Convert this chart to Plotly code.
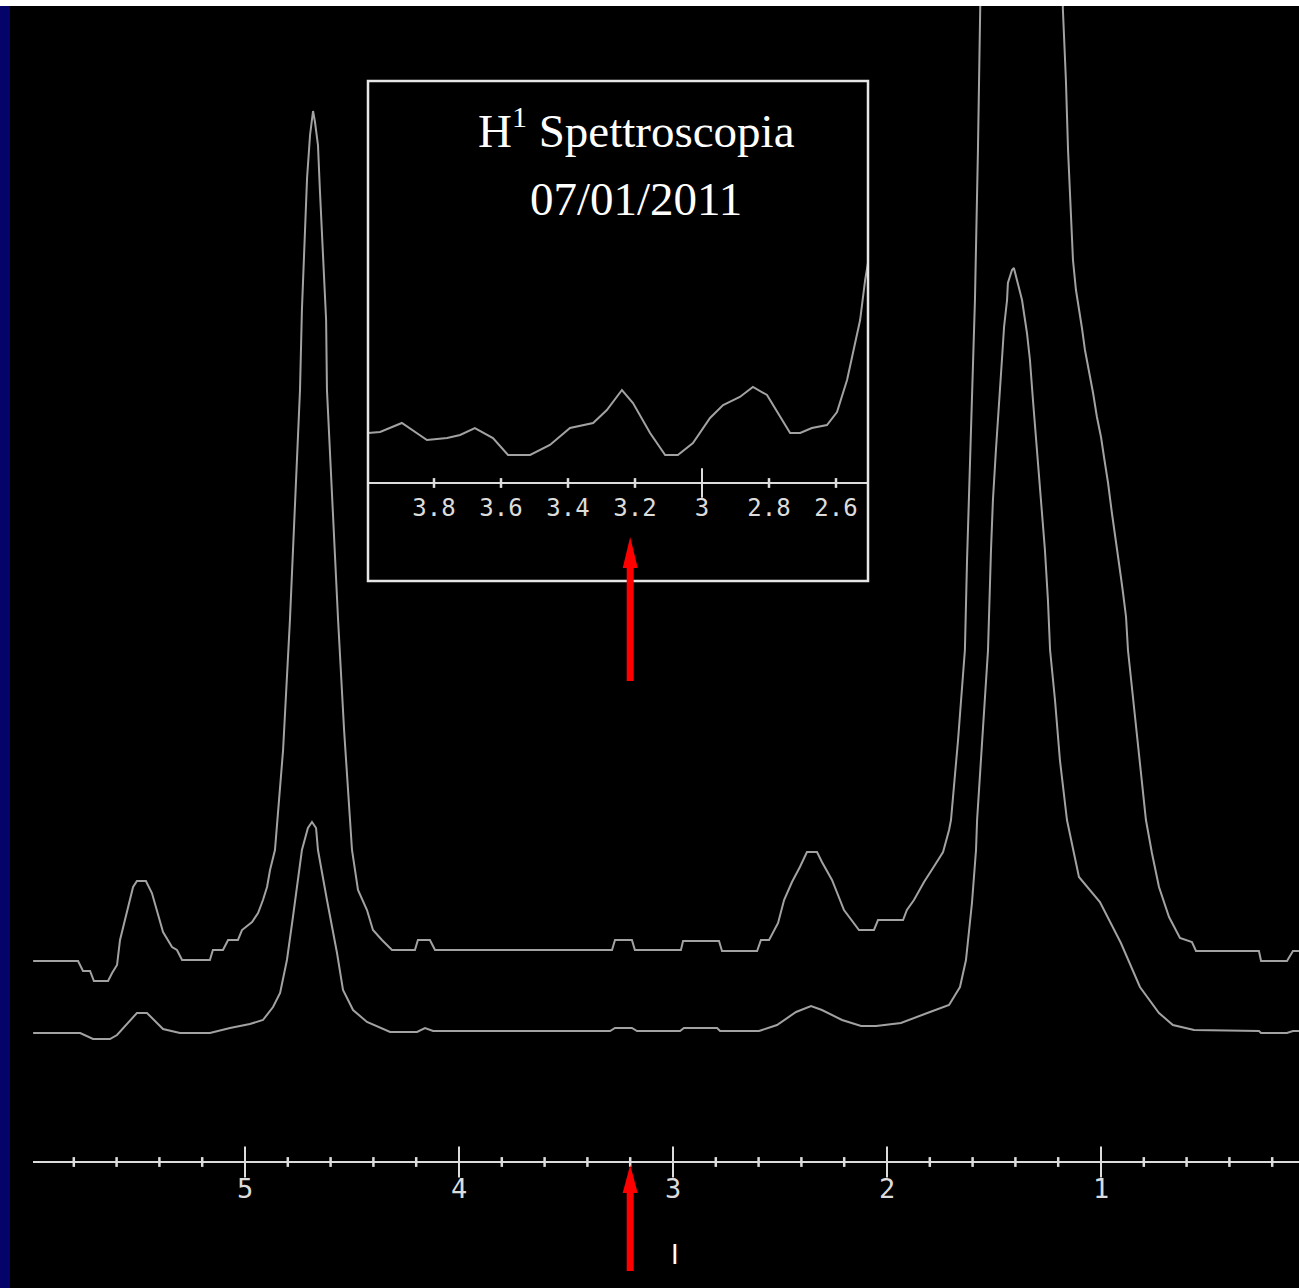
import plotly.graph_objects as go

# ---------------- data ----------------
# lower spectrum (ppm, intensity a.u. above its own baseline)
ppm_low = [5.99, 5.77, 5.71, 5.631, 5.598, 5.505, 5.458, 5.383, 5.304, 5.164, 5.07, 4.977, 4.916,
           4.869, 4.836, 4.804, 4.776, 4.734, 4.706, 4.687, 4.668, 4.659, 4.617, 4.57, 4.542, 4.495,
           4.43, 4.322, 4.196, 4.159, 4.121, 3.294, 3.271, 3.192, 3.168, 2.967, 2.949, 2.794, 2.78,
           2.598, 2.514, 2.425, 2.355, 2.304, 2.21, 2.121, 2.051, 1.935, 1.799, 1.71, 1.659, 1.631,
           1.603, 1.584, 1.579, 1.556, 1.528, 1.514, 1.505, 1.491, 1.477, 1.463, 1.453, 1.439, 1.435,
           1.416, 1.407, 1.388, 1.369, 1.346, 1.332, 1.318, 1.299, 1.28, 1.262, 1.248, 1.238, 1.215,
           1.192, 1.159, 1.103, 1.005, 0.907, 0.818, 0.729, 0.664, 0.565, 0.262, 0.252, 0.131, 0.103,
           0.075]
int_low = [-1, -1, -7, -7, -3, 19, 19, 3, -1, -1, 4, 8, 12,
           25, 39, 72, 115, 182, 204, 210, 204, 182, 132, 79, 42, 22,
           10, 0, 0, 4, 1, 1, 4, 4, 1, 1, 4, 4, 1,
           1, 7, 20, 26, 22, 12, 6, 6, 9, 20, 27, 45, 72,
           129, 182, 212, 292, 382, 482, 532, 582, 632, 672, 705, 732, 749,
           762, 764, 749, 732, 699, 672, 632, 582, 532, 482, 432, 382, 332,
           272, 212, 155, 130, 89, 45, 19, 7, 2, 1, -1, -1, 1,
           1]

# upper spectrum (vertically expanded copy, clipped at the top)
ppm_up = [5.99, 5.78, 5.757, 5.724, 5.706, 5.64, 5.621, 5.598, 5.584, 5.551, 5.523, 5.505, 5.463,
          5.435, 5.411, 5.383, 5.341, 5.318, 5.294, 5.164, 5.15, 5.103, 5.079, 5.033, 5.014, 4.967,
          4.939, 4.916, 4.897, 4.883, 4.86, 4.822, 4.79, 4.762, 4.743, 4.734, 4.72, 4.71, 4.696,
          4.682, 4.673, 4.659, 4.65, 4.636, 4.621, 4.617, 4.593, 4.565, 4.537, 4.5, 4.472, 4.43,
          4.402, 4.36, 4.313, 4.206, 4.192, 4.136, 4.112, 3.285, 3.271, 3.192, 3.178, 2.963, 2.953,
          2.785, 2.771, 2.607, 2.589, 2.551, 2.509, 2.481, 2.444, 2.407, 2.374, 2.327, 2.304, 2.257,
          2.201, 2.168, 2.131, 2.061, 2.042, 1.925, 1.907, 1.874, 1.827, 1.785, 1.738, 1.71, 1.701,
          1.668, 1.636, 1.626, 1.612, 1.603, 1.589, 1.575, 1.565, 1.407, 1.178, 1.164, 1.154, 1.14,
          1.131, 1.117, 1.107, 1.089, 1.075, 1.056, 1.037, 1.019, 1.0, 0.986, 0.967, 0.949, 0.935,
          0.921, 0.907, 0.897, 0.883, 0.874, 0.85, 0.818, 0.79, 0.762, 0.729, 0.682, 0.631, 0.575,
          0.556, 0.262, 0.252, 0.131, 0.103, 0.075]
int_up = [-10, -10, -20, -20, -30, -30, -22, -14, 11, 41, 64, 70, 70,
          58, 41, 19, 4, 1, -9, -9, 1, 1, 11, 11, 21, 29,
          38, 51, 64, 81, 101, 201, 331, 471, 561, 641, 716, 773, 816,
          840, 829, 806, 761, 698, 631, 561, 451, 331, 221, 101, 61, 41,
          21, 11, 1, 1, 11, 11, 1, 1, 11, 11, 1, 1, 10,
          10, 0, 0, 11, 11, 28, 51, 69, 84, 99, 99, 89, 71,
          41, 31, 21, 21, 31, 31, 41, 51, 69, 83, 99, 121, 131,
          211, 301, 391, 491, 551, 651, 801, 941, 3050, 941, 871, 801, 741,
          691, 661, 648, 623, 601, 581, 558, 534, 514, 494, 468, 438, 418,
          398, 374, 358, 334, 301, 251, 191, 131, 98, 64, 34, 13, 9,
          0, 0, -10, -10, 0, 0]

# inset spectrum (ppm, intensity above inset axis)
ppm_inset = [3.997, 3.961, 3.896, 3.821, 3.761, 3.722, 3.678, 3.624, 3.579, 3.513, 3.454, 3.394,
             3.325, 3.284, 3.239, 3.206, 3.155, 3.11, 3.072, 3.027, 2.976, 2.937, 2.887, 2.848,
             2.806, 2.773, 2.737, 2.707, 2.672, 2.627, 2.597, 2.567, 2.549, 2.528, 2.513, 2.504]
int_inset = [50, 51, 60, 43, 45, 48, 55, 45, 28, 28, 38, 55,
             60, 73, 93, 80, 50, 28, 28, 40, 65, 78, 86, 96,
             88, 70, 50, 50, 55, 58, 71, 103, 130, 163, 203, 221]

main_major_ticks = [5, 4, 3, 2, 1]
main_major_labels = ["5", "4", "3", "2", "1"]
main_minor_ticks = [5.8, 5.6, 5.4, 5.2, 4.8, 4.6, 4.4, 4.2, 3.8, 3.6, 3.4, 3.2, 2.8, 2.6, 2.4, 2.2,
                    1.8, 1.6, 1.4, 1.2, 0.8, 0.6, 0.4, 0.2]
inset_major_ticks = [3.0]
inset_minor_ticks = [3.8, 3.6, 3.4, 3.2, 2.8, 2.6]
inset_tick_vals = [3.8, 3.6, 3.4, 3.2, 3.0, 2.8, 2.6]
inset_tick_text = ["3.8", "3.6", "3.4", "3.2", "3", "2.8", "2.6"]
arrow_ppm = 3.2
title_line1 = "H<sup><span style='font-size:30px'>1</span></sup> Spettroscopia"
title_line2 = "07/01/2011"
cursor_text = "I"

# ---------------- layout constants ----------------
W, H = 1299, 1288
TOP = 6                      # white strip on top (px)
LEFT = 10                    # navy strip on the left (px)
AXIS_PX = 1162               # main axis line (px)
LOW_OFFSET = 130             # lower baseline above axis (px units)
UP_OFFSET = 211              # upper baseline above axis
TRACE_C = "#a2a2a2"
AX_C = "#dcdcdc"
RED = "#ff0000"


def pfy(py):
    return 1 - py / H


fig = go.Figure()

# main spectra
fig.add_trace(go.Scatter(x=ppm_up, y=[v + UP_OFFSET for v in int_up], mode="lines",
                         line=dict(color=TRACE_C, width=2), hoverinfo="skip", showlegend=False))
fig.add_trace(go.Scatter(x=ppm_low, y=[v + LOW_OFFSET for v in int_low], mode="lines",
                         line=dict(color=TRACE_C, width=2), hoverinfo="skip", showlegend=False))
# main axis ticks crossing the line
fig.add_trace(go.Scatter(x=main_major_ticks, y=[0] * len(main_major_ticks), mode="markers",
                         marker=dict(symbol="line-ns", size=22, line=dict(width=2, color=AX_C)),
                         hoverinfo="skip", showlegend=False))
fig.add_trace(go.Scatter(x=main_minor_ticks, y=[0] * len(main_minor_ticks), mode="markers",
                         marker=dict(symbol="line-ns", size=7, line=dict(width=2.5, color=AX_C)),
                         hoverinfo="skip", showlegend=False))

# inset
fig.add_trace(go.Scatter(x=ppm_inset, y=int_inset, mode="lines", xaxis="x2", yaxis="y2",
                         line=dict(color=TRACE_C, width=2), hoverinfo="skip", showlegend=False))
fig.add_trace(go.Scatter(x=inset_major_ticks, y=[0] * len(inset_major_ticks), mode="markers",
                         xaxis="x2", yaxis="y2",
                         marker=dict(symbol="line-ns", size=21, line=dict(width=2, color=AX_C)),
                         hoverinfo="skip", showlegend=False))
fig.add_trace(go.Scatter(x=inset_minor_ticks, y=[0] * len(inset_minor_ticks), mode="markers",
                         xaxis="x2", yaxis="y2",
                         marker=dict(symbol="line-ns", size=7, line=dict(width=2.5, color=AX_C)),
                         hoverinfo="skip", showlegend=False))

x0_main = 33 / W
x_lo_ppm = 5 + (245 - 33) / 214
x_hi_ppm = 5 - (W - 245) / 214

fig.update_layout(
    width=W, height=H,
    margin=dict(l=0, r=0, t=0, b=0, pad=0),
    paper_bgcolor="black", plot_bgcolor="black",
    xaxis=dict(domain=[x0_main, 1], range=[x_lo_ppm, x_hi_ppm], anchor="free",
               position=pfy(AXIS_PX), showline=True, linecolor=AX_C, linewidth=2,
               showgrid=False, zeroline=False, ticks="", tickvals=main_major_ticks,
               ticktext=main_major_labels, ticklabelstandoff=3,
               tickfont=dict(family="DejaVu Sans Mono", size=27, color=AX_C)),
    yaxis=dict(domain=[0, 1], range=[-(H - AXIS_PX), AXIS_PX], visible=False,
               showgrid=False, zeroline=False),
    xaxis2=dict(domain=[368 / W, 868 / W], range=[3 + (702 - 368) / 335, 3 - (868 - 702) / 335],
                anchor="free", position=pfy(483), showline=True, linecolor=AX_C, linewidth=2,
                showgrid=False, zeroline=False, ticks="", tickvals=inset_tick_vals,
                ticktext=inset_tick_text, ticklabelstandoff=3,
                tickfont=dict(family="DejaVu Sans Mono", size=24, color=AX_C)),
    yaxis2=dict(domain=[pfy(581), pfy(81)], range=[-(581 - 483), 483 - 81], visible=False,
                showgrid=False, zeroline=False, anchor="x2"),
    showlegend=False,
)

shapes = [
    # white strip on top
    dict(type="rect", xref="paper", yref="paper", x0=0, x1=1, y0=pfy(TOP), y1=1,
         fillcolor="white", line=dict(width=0), layer="above"),
    # navy strip on the left
    dict(type="rect", xref="paper", yref="paper", x0=0, x1=LEFT / W, y0=0, y1=pfy(TOP),
         fillcolor="#03036a", line=dict(width=0), layer="above"),
    # inset box
    dict(type="rect", xref="x2 domain", yref="y2 domain", x0=0, x1=1, y0=0, y1=1,
         fillcolor="rgba(0,0,0,0)", line=dict(color="#e6e6e6", width=2.5), layer="above"),
    # lower red arrow: shaft + head
    dict(type="line", xref="x", yref="y", x0=arrow_ppm, x1=arrow_ppm,
         y0=AXIS_PX - 1271, y1=AXIS_PX - 1190, line=dict(color=RED, width=7), layer="above"),
    dict(type="path", xref="x", yref="y", xsizemode="pixel", xanchor=arrow_ppm,
         path=f"M-7.5,{AXIS_PX - 1193} L7.5,{AXIS_PX - 1193} L0,{AXIS_PX - 1165} Z",
         fillcolor=RED, line=dict(width=0), layer="above"),
    # upper red arrow
    dict(type="line", xref="x", yref="y", x0=arrow_ppm, x1=arrow_ppm,
         y0=AXIS_PX - 681, y1=AXIS_PX - 565, line=dict(color=RED, width=7), layer="above"),
    dict(type="path", xref="x", yref="y", xsizemode="pixel", xanchor=arrow_ppm,
         path=f"M-7.5,{AXIS_PX - 568} L7.5,{AXIS_PX - 568} L0,{AXIS_PX - 537} Z",
         fillcolor=RED, line=dict(width=0), layer="above"),
]
fig.update_layout(shapes=shapes)

fig.add_annotation(text=title_line1, xref="paper", yref="paper", x=636 / W, y=pfy(129),
                   xanchor="center", yanchor="middle", showarrow=False,
                   font=dict(family="Liberation Serif", size=47, color="white"))
fig.add_annotation(text=title_line2, xref="paper", yref="paper", x=636 / W, y=pfy(199),
                   xanchor="center", yanchor="middle", showarrow=False,
                   font=dict(family="Liberation Serif", size=47, color="white"))
fig.add_annotation(text=cursor_text, xref="paper", yref="paper", x=675 / W, y=pfy(1255),
                   xanchor="center", yanchor="middle", showarrow=False,
                   font=dict(family="DejaVu Sans", size=26, color="white"))

fig.write_html("out.html", config={"displayModeBar": False},
               post_script="document.body.style.margin='0';document.body.style.padding='0';"
                           "document.body.style.background='black';")
